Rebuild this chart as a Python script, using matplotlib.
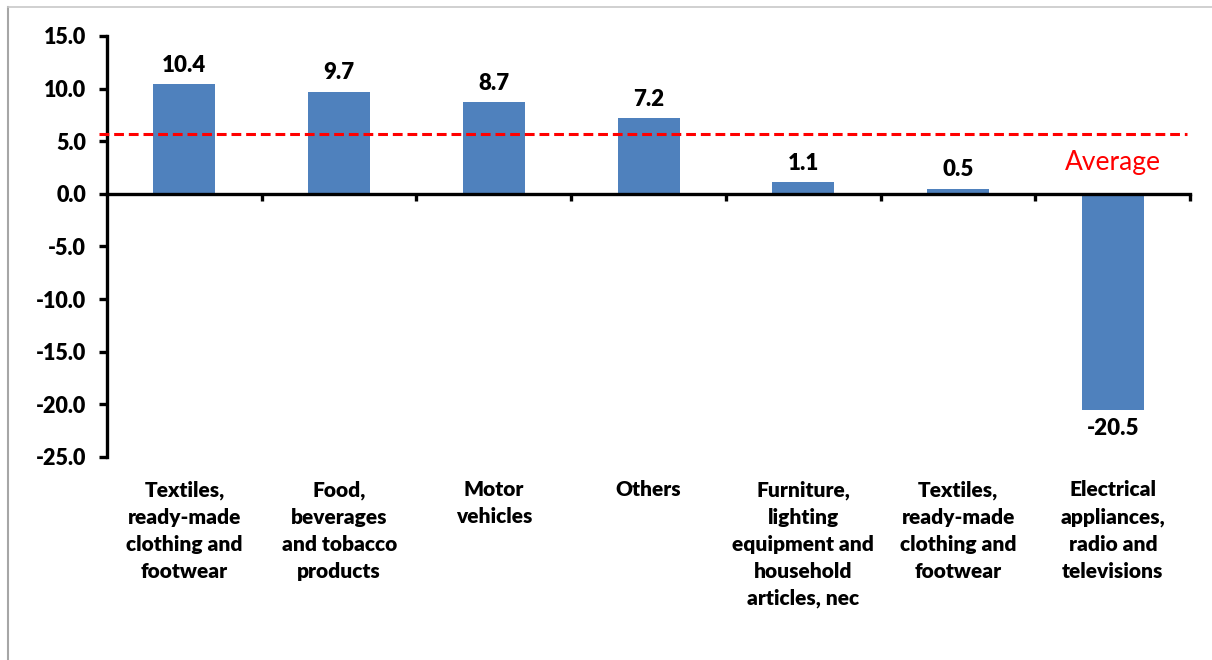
import numpy as np
import matplotlib.pyplot as plt
from matplotlib.lines import Line2D
import matplotlib.transforms as mtransforms

plt.rcParams['font.family'] = ['Lato', 'DejaVu Sans']

# data
categories = ["Textiles,\nready-made\nclothing and\nfootwear",
              "Food,\nbeverages\nand tobacco\nproducts",
              "Motor\nvehicles",
              "Others",
              "Furniture,\nlighting\nequipment and\nhousehold\narticles, nec",
              "Textiles,\nready-made\nclothing and\nfootwear",
              "Electrical\nappliances,\nradio and\ntelevisions"]
values = [10.4, 9.7, 8.7, 7.2, 1.1, 0.5, -20.5]
average = 5.7
yticks = [-25, -20, -15, -10, -5, 0, 5, 10, 15]

WEIGHT = 'heavy'

fig = plt.figure(figsize=(12.12, 6.6), dpi=100)
ax = fig.add_axes([0.0883, 0.3076, 0.8937, 0.6379])

x = np.arange(len(values))
ax.bar(x, values, width=0.4, color='#4F81BD', zorder=2)

# value labels
for xi, v in zip(x, values):
    if v >= 0:
        ax.annotate("%.1f" % v, (xi, v), xytext=(0, 6), textcoords='offset points',
                    ha='center', va='bottom', fontsize=16, fontweight=WEIGHT)
    else:
        ax.annotate("%.1f" % v, (xi, v), xytext=(0, -6), textcoords='offset points',
                    ha='center', va='top', fontsize=16, fontweight=WEIGHT)

# average line
ax.plot([-0.55, 6.48], [average, average], color='#FF0000', ls=(0, (3.2, 1.6)),
        lw=2.2, zorder=3, clip_on=False)
ax.text(6.0, 3.0, "Average", color='#FF0000', fontsize=19, ha='center', va='center')

ax.set_xlim(-0.5, 6.5)
ax.set_ylim(-25, 15)
ax.set_yticks(yticks)
ax.set_yticklabels(["%.1f" % t for t in yticks], fontsize=15.5, fontweight=WEIGHT)

for s in ['top', 'right']:
    ax.spines[s].set_visible(False)
ax.spines['left'].set_linewidth(2.4)
ax.spines['bottom'].set_linewidth(2.4)
ax.spines['bottom'].set_position(('data', 0))
ax.tick_params(axis='y', direction='out', length=6, width=2.4, pad=9)
ax.set_xticks(np.arange(0.5, 7, 1))
ax.set_xticklabels([])
ax.tick_params(axis='x', direction='out', length=5, width=2.4)

# category labels below the plot
trans = mtransforms.blended_transform_factory(ax.transData, ax.transAxes)
for xi, lab in zip(x, categories):
    ax.text(xi, -0.055, lab, transform=trans, ha='center', va='top',
            fontsize=15, fontweight=WEIGHT, linespacing=1.5)

# outer frame (left/top)
fig.add_artist(Line2D([0.0066, 0.0066], [0, 0.99], color='#A6A6A6', lw=1.5,
                      transform=fig.transFigure))
fig.add_artist(Line2D([0.0066, 1], [0.99, 0.99], color='#C8C8C8', lw=1.2,
                      transform=fig.transFigure))

fig.savefig("out.png", dpi=100)
